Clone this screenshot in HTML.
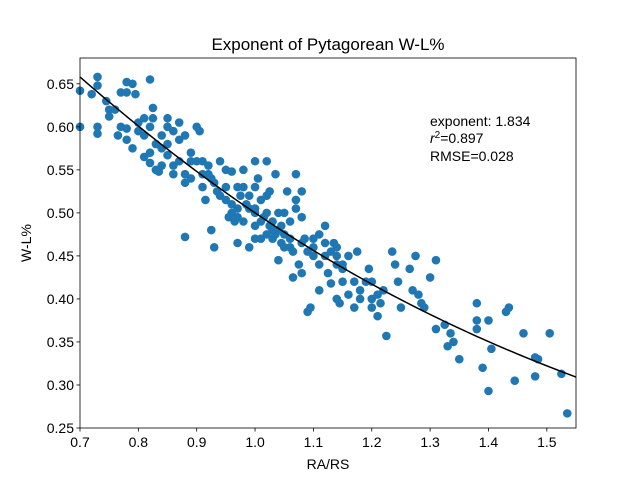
<!DOCTYPE html>
<html><head><meta charset="utf-8"><style>
body{margin:0;background:#fff;}
svg{display:block;font-family:"Liberation Sans",sans-serif;}
</style></head><body>
<svg id="chart" width="640" height="480"></svg>
<script>
const xs=[0.70,0.70,0.73,0.73,0.72,0.73,0.73,0.745,0.75,0.75,0.76,0.77,0.78,0.78,0.79,0.795,0.82,0.765,0.77,0.78,0.78,0.79,0.80,0.80,0.81,0.81,0.82,0.82,0.82,0.825,0.825,0.83,0.83,0.835,0.84,0.84,0.85,0.85,0.85,0.85,0.86,0.86,0.87,0.87,0.87,0.88,0.88,0.88,0.89,0.89,0.90,0.905,0.90,0.91,0.91,0.915,0.92,0.92,0.925,0.93,0.935,0.94,0.95,0.95,0.96,0.96,0.965,0.97,0.97,0.975,0.98,0.98,0.98,0.99,0.99,1.0,1.0,1.0,1.0,1.005,1.01,1.01,1.015,1.02,1.02,1.02,1.025,1.03,1.03,1.035,1.04,1.04,1.045,1.05,1.05,1.055,1.06,1.06,1.065,1.07,1.07,1.07,1.075,1.08,1.08,1.08,1.085,1.09,1.095,1.10,1.10,1.11,1.11,1.11,1.12,1.12,1.125,1.13,1.135,1.14,1.14,1.14,1.145,1.15,1.15,1.16,1.16,1.17,1.175,1.18,1.19,1.195,1.20,1.20,1.21,1.215,1.22,1.225,1.235,1.24,1.245,1.25,1.265,1.27,1.275,1.28,1.285,1.29,1.30,1.31,1.31,1.325,1.33,1.335,1.34,1.35,1.38,1.38,1.38,1.39,1.40,1.40,1.405,1.43,1.435,1.445,1.46,1.48,1.485,1.48,1.505,1.525,1.535,0.88,0.925,0.93,0.97,1.09,1.0,1.025,0.96,0.955,1.04,1.035,1.1,1.13,1.15,1.2,1.18,1.17,1.21,0.94,0.95,0.99,1.01,1.03,1.05,1.06,1.08,0.97,0.985,1.045,1.065,1.12,1.14,0.86,0.89,0.91,0.84,0.81,1.0,1.02];
const ys=[0.642,0.60,0.658,0.648,0.638,0.60,0.592,0.63,0.62,0.612,0.62,0.64,0.652,0.64,0.65,0.638,0.655,0.59,0.60,0.598,0.585,0.575,0.595,0.605,0.59,0.565,0.558,0.57,0.60,0.61,0.622,0.58,0.55,0.548,0.59,0.555,0.567,0.58,0.60,0.61,0.595,0.545,0.56,0.585,0.605,0.59,0.545,0.535,0.57,0.54,0.60,0.595,0.56,0.56,0.53,0.515,0.545,0.555,0.54,0.535,0.525,0.56,0.55,0.515,0.548,0.50,0.49,0.53,0.505,0.52,0.53,0.49,0.55,0.52,0.46,0.56,0.53,0.505,0.50,0.54,0.47,0.515,0.495,0.56,0.52,0.50,0.485,0.47,0.49,0.545,0.48,0.445,0.465,0.50,0.46,0.525,0.49,0.47,0.425,0.545,0.515,0.505,0.44,0.525,0.495,0.43,0.47,0.455,0.39,0.47,0.45,0.475,0.44,0.41,0.45,0.485,0.43,0.418,0.465,0.46,0.45,0.40,0.395,0.435,0.42,0.45,0.405,0.42,0.455,0.41,0.42,0.435,0.40,0.39,0.405,0.395,0.41,0.357,0.455,0.44,0.42,0.39,0.435,0.41,0.45,0.405,0.395,0.39,0.425,0.365,0.445,0.37,0.345,0.36,0.35,0.33,0.395,0.375,0.365,0.32,0.375,0.293,0.342,0.385,0.39,0.305,0.36,0.332,0.33,0.31,0.36,0.313,0.267,0.472,0.48,0.46,0.465,0.385,0.47,0.525,0.51,0.495,0.50,0.475,0.46,0.455,0.44,0.42,0.40,0.39,0.38,0.52,0.53,0.505,0.49,0.48,0.475,0.46,0.465,0.495,0.51,0.485,0.455,0.465,0.44,0.555,0.56,0.545,0.575,0.61,0.485,0.475];
const xTicks=[0.7,0.8,0.9,1.0,1.1,1.2,1.3,1.4,1.5];
const yTicks=[0.25,0.30,0.35,0.40,0.45,0.50,0.55,0.60,0.65];
const exponent=1.834;
const L=80,R=576,T=58,B=428,x0=0.7,x1=1.55,y0=0.25,y1=0.68;
const sx=v=>L+(v-x0)/(x1-x0)*(R-L);
const sy=v=>B-(v-y0)/(y1-y0)*(B-T);
const NS="http://www.w3.org/2000/svg";
const svg=document.getElementById('chart');
function mk(t,a,p){const e=document.createElementNS(NS,t);for(const k in a)e.setAttribute(k,a[k]);(p||svg).appendChild(e);return e;}
const pts=mk('g',{});


xs.forEach((x,i)=>{const c=mk('circle',{cx:sx(x),cy:sy(ys[i]),r:4.3,fill:'#1f77b4'},pts);

});
let d='';for(let i=0;i<=100;i++){const x=x0+(x1-x0)*i/100;const y=1/(1+Math.pow(x,exponent));d+=(i?'L':'M')+sx(x).toFixed(2)+','+sy(y).toFixed(2);}
const fit=mk('path',{d:d,fill:'none',stroke:'#000','stroke-width':1.5});


const frame=mk('rect',{x:L,y:T,width:R-L,height:B-T,fill:'none',stroke:'#000','stroke-width':0.8});


xTicks.forEach(t=>{mk('line',{x1:sx(t),x2:sx(t),y1:B,y2:B+3.5,stroke:'#000','stroke-width':0.8});
const tx=mk('text',{x:sx(t),y:B+19,'text-anchor':'middle','font-size':14});tx.textContent=t.toFixed(1);

});
yTicks.forEach(t=>{mk('line',{x1:L-3.5,x2:L,y1:sy(t),y2:sy(t),stroke:'#000','stroke-width':0.8});
const tx=mk('text',{x:L-6,y:sy(t)+5,'text-anchor':'end','font-size':14});tx.textContent=t.toFixed(2);

});
</script>
<svg width="640" height="480" style="position:absolute;left:0;top:0">
<text x="328" y="50" text-anchor="middle" font-size="17">Exponent of Pytagorean W-L%</text>
<text x="328" y="469" text-anchor="middle" font-size="14">RA/RS</text>
<text x="31" y="243" text-anchor="middle" font-size="14" transform="rotate(-90 31 243)">W-L%</text>
<g font-size="14">
<text x="430" y="126">exponent: 1.834</text>
<text x="430" y="143"><tspan font-style="italic">r</tspan><tspan font-size="10" dy="-5">2</tspan><tspan dy="5">=0.897</tspan></text>
<text x="430" y="161">RMSE=0.028</text>
</g>
</svg>
</body></html>
